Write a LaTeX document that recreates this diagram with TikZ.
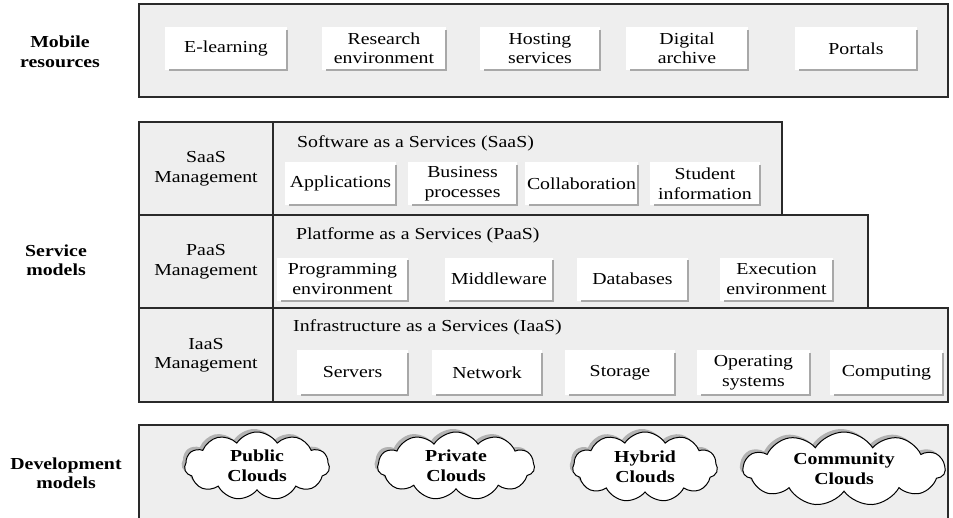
\documentclass[tikz,border=0pt]{standalone}
\usepackage{fontspec}
\setmainfont[FakeStretch=1.18]{Liberation Serif}
\usetikzlibrary{shapes.symbols}
\definecolor{bgray}{HTML}{EEEEEE}
\definecolor{edge}{HTML}{2A2A2A}
\definecolor{shade}{HTML}{A8A8A8}
\newcommand\itemshadow[1]{\draw[shadline] ([yshift=-3pt]#1.north east) -- (#1.south east) -- ([xshift=4pt]#1.south west);}
\begin{document}
\begin{tikzpicture}[x=1pt,y=-1pt,
  every node/.style={font=\fontsize{16.8}{19.5}\selectfont, inner sep=0pt, align=center},
  panel/.style={draw=edge, line width=1.4pt, fill=bgray},
  item/.style={fill=white, minimum height=43pt},
  shadline/.style={draw=shade, line width=1.6pt},
  lbl/.style={font=\fontsize{16.8}{19.5}\selectfont\bfseries},
  hd/.style={anchor=west},
  cloudbox/.style={cloud, cloud puffs=11, cloud puff arc=115, cloud ignores aspect, draw=black, line width=1pt, fill=white, font=\fontsize{16.8}{20}\selectfont\bfseries},
  cloudshade/.style={cloud, cloud puffs=11, cloud puff arc=115, cloud ignores aspect, fill=gray!60}
]
\useasboundingbox (0,0) rectangle (953,517);

% ---------- Mobile resources ----------
\node[lbl] (lmob) at (60,52) {Mobile\\resources};
\node[panel, minimum width=809pt, minimum height=93pt] (mob) at (543.5,50.5) {};
\node[item, minimum width=122pt] (elearn) at (226,48.5) {E-learning};
\node[item, minimum width=124pt] (research) at (384,48.5) {Research\\environment};
\node[item, minimum width=120pt] (hosting) at (540,48.5) {Hosting\\services};
\node[item, minimum width=122pt] (digital) at (687,48.5) {Digital\\archive};
\node[item, minimum width=122pt] (portals) at (856,48.5) {Portals};
\foreach \n in {elearn,research,hosting,digital,portals} {\itemshadow{\n}}

% ---------- Service models ----------
\node[lbl] (lserv) at (56,260) {Service\\models};

\node[panel, minimum width=809pt, minimum height=94pt] (iaas) at (543.5,355) {};
\node[panel, minimum width=729pt, minimum height=93pt] (paas) at (503.5,261.5) {};
\node[panel, minimum width=643pt, minimum height=93pt] (saas) at (460.5,168.5) {};
\node[panel, minimum width=134pt, minimum height=93pt] (saasm) at (206,168.5) {SaaS\\Management};
\node[panel, minimum width=134pt, minimum height=93pt] (paasm) at (206,261.5) {PaaS\\Management};
\node[panel, minimum width=134pt, minimum height=94pt] (iaasm) at (206,355) {IaaS\\Management};

\node[hd] (hsaas) at (297,143) {Software as a Services (SaaS)};
\node[hd] (hpaas) at (296,235) {Platforme as a Services (PaaS)};
\node[hd] (hiaas) at (293,327) {Infrastructure as a Services (IaaS)};

\node[item, minimum width=111pt] (apps) at (340.5,183.5) {Applications};
\node[item, minimum width=109pt] (business) at (462.5,183.5) {Business\\processes};
\node[item, minimum width=113pt] (collab) at (581.5,183.5) {Collaboration};
\node[item, minimum width=110pt] (student) at (705,183.5) {Student\\information};

\node[item, minimum width=131pt] (prog) at (342.5,279) {Programming\\environment};
\node[item, minimum width=108pt] (middle) at (499,279) {Middleware};
\node[item, minimum width=111pt] (db) at (632.5,279) {Databases};
\node[item, minimum width=113pt] (exec) at (776.5,279) {Execution\\environment};

\node[item, minimum width=111pt, minimum height=45pt] (servers) at (352.5,372.5) {Servers};
\node[item, minimum width=110pt, minimum height=45pt] (network) at (487,372.5) {Network};
\node[item, minimum width=110pt, minimum height=45pt] (storage) at (620,372.5) {Storage};
\node[item, minimum width=113pt, minimum height=45pt] (os) at (753.5,372.5) {Operating\\systems};
\node[item, minimum width=113pt, minimum height=45pt] (computing) at (886.5,372.5) {Computing};
\foreach \n in {apps,business,collab,student,prog,middle,db,exec,servers,network,storage,os,computing} {\itemshadow{\n}}

% ---------- Development models ----------
\node[lbl] (ldev) at (66,473) {Development\\models};
\node[panel, minimum width=809pt, minimum height=110pt] (dev) at (543.5,480) {};

\node[cloudshade, minimum width=145pt, minimum height=68pt] (pubs) at (254,463) {};
\node[cloudshade, minimum width=157pt, minimum height=68pt] (privs) at (453,463) {};
\node[cloudshade, minimum width=145pt, minimum height=70pt] (hybs) at (642,464) {};
\node[cloudshade, minimum width=202pt, minimum height=74pt] (coms) at (841,466) {};

\node[cloudbox, minimum width=145pt, minimum height=68pt] (public) at (257,466) {Public\\Clouds};
\node[cloudbox, minimum width=157pt, minimum height=68pt] (private) at (456,466) {Private\\Clouds};
\node[cloudbox, minimum width=145pt, minimum height=70pt] (hybrid) at (645,467) {Hybrid\\Clouds};
\node[cloudbox, minimum width=202pt, minimum height=74pt] (community) at (844,469) {Community\\Clouds};
\end{tikzpicture}
\end{document}
